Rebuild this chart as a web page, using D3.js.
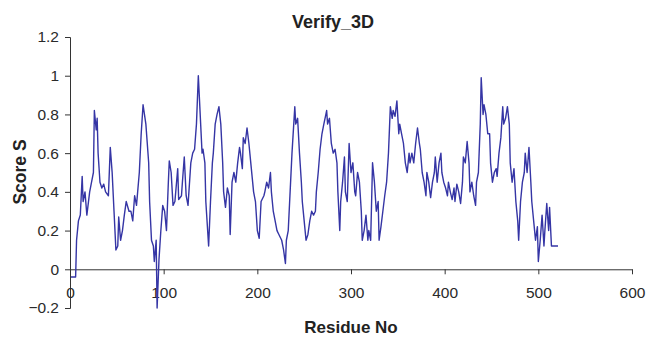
<!DOCTYPE html>
<html>
<head>
<meta charset="utf-8">
<script src="https://cdn.jsdelivr.net/npm/d3@7"></script>
<style>
  body { margin: 0; background: #fff; }
  svg { display: block; font-family: "Liberation Sans", Arial, sans-serif; }
</style>
</head>
<body>
<div id="chart"></div>
<script>
// residue numbers and Verify_3D scores
const residues = [1, 6, 7, 9, 11, 13, 14, 16, 18, 21, 23, 25, 26, 28, 29, 30, 32, 34, 36, 38, 41, 43, 45, 47, 49,
  51, 52, 54, 56, 58, 60, 63, 65, 67, 69, 71, 74, 76, 78, 81, 84, 85, 87, 89, 90, 92, 93, 95, 97, 99,
  101, 103, 105, 106, 108, 110, 112, 115, 116, 119, 120, 122, 124, 126, 129, 131, 133, 135, 137, 139,
  141, 142, 144, 145, 148, 150, 152, 153, 155, 157, 159, 161, 163, 164, 166, 168, 170, 171, 173, 175,
  177, 179, 181, 182, 184, 185, 187, 189, 191, 193, 195, 196, 198, 200, 202, 204, 207, 208, 210, 212,
  214, 215, 217, 219, 221, 223, 226, 228, 230, 231, 233, 235, 237, 240, 241, 243, 245, 247, 248, 250,
  252, 254, 256, 258, 260, 262, 263, 265, 267, 269, 271, 274, 275, 277, 279, 281, 283, 285, 286, 288,
  289, 291, 293, 294, 296, 298, 300, 302, 304, 305, 307, 309, 311, 312, 314, 316, 318, 319, 321, 323,
  325, 327, 329, 330, 332, 334, 336, 338, 340, 342, 344, 345, 347, 349, 351, 352, 354, 356, 358, 360,
  362, 363, 365, 367, 369, 371, 373, 374, 376, 378, 380, 381, 383, 385, 387, 389, 390, 392, 394, 396,
  397, 399, 401, 403, 404, 406, 408, 410, 411, 413, 415, 417, 419, 420, 422, 424, 426, 427, 429, 431,
  433, 434, 436, 438, 439, 441, 442, 444, 446, 448, 449, 451, 453, 455, 456, 458, 460, 462, 463, 465,
  467, 469, 470, 472, 474, 476, 478, 479, 481, 483, 485, 486, 488, 490, 492, 493, 495, 497, 499, 500,
  502, 504, 506, 507, 509, 511, 512, 514, 521];
const scores = [-0.04, -0.04, 0.15, 0.25, 0.28, 0.48, 0.35, 0.4, 0.28, 0.4, 0.45, 0.5, 0.82, 0.72, 0.78, 0.6, 0.45, 0.42, 0.44, 0.4, 0.38, 0.63, 0.5, 0.3, 0.1,
  0.12, 0.27, 0.15, 0.2, 0.28, 0.35, 0.3, 0.3, 0.25, 0.38, 0.33, 0.5, 0.7, 0.85, 0.75, 0.55, 0.35, 0.15, 0.12, 0.04, 0.15, -0.2, 0.05, 0.2, 0.33,
  0.3, 0.2, 0.45, 0.56, 0.5, 0.33, 0.35, 0.52, 0.36, 0.38, 0.45, 0.58, 0.38, 0.33, 0.55, 0.6, 0.62, 0.75, 1.0, 0.8,
  0.6, 0.62, 0.55, 0.35, 0.12, 0.35, 0.55, 0.6, 0.75, 0.8, 0.84, 0.75, 0.55, 0.4, 0.32, 0.42, 0.38, 0.18, 0.45, 0.5,
  0.45, 0.55, 0.63, 0.6, 0.52, 0.68, 0.65, 0.73, 0.65, 0.55, 0.45, 0.4, 0.35, 0.2, 0.16, 0.35, 0.38, 0.4, 0.45, 0.42,
  0.5, 0.4, 0.3, 0.25, 0.2, 0.18, 0.15, 0.1, 0.03, 0.15, 0.2, 0.4, 0.6, 0.84, 0.75, 0.78, 0.6, 0.45, 0.35, 0.25,
  0.15, 0.18, 0.25, 0.3, 0.28, 0.3, 0.4, 0.5, 0.62, 0.7, 0.75, 0.82, 0.75, 0.78, 0.65, 0.6, 0.62, 0.55, 0.4, 0.2,
  0.35, 0.45, 0.58, 0.4, 0.35, 0.65, 0.5, 0.55, 0.4, 0.38, 0.5, 0.45, 0.3, 0.15, 0.2, 0.28, 0.15, 0.2, 0.15, 0.55,
  0.45, 0.3, 0.35, 0.15, 0.22, 0.3, 0.38, 0.45, 0.6, 0.84, 0.78, 0.82, 0.79, 0.87, 0.7, 0.75, 0.7, 0.65, 0.55, 0.5,
  0.6, 0.55, 0.6, 0.55, 0.65, 0.73, 0.65, 0.62, 0.5, 0.45, 0.38, 0.5, 0.45, 0.37, 0.45, 0.5, 0.58, 0.45, 0.55, 0.6,
  0.5, 0.45, 0.42, 0.38, 0.45, 0.4, 0.36, 0.42, 0.35, 0.44, 0.4, 0.34, 0.45, 0.58, 0.55, 0.66, 0.55, 0.4, 0.45, 0.38,
  0.33, 0.45, 0.5, 0.75, 0.99, 0.8, 0.85, 0.8, 0.7, 0.7, 0.55, 0.45, 0.5, 0.52, 0.48, 0.6, 0.68, 0.84, 0.75, 0.78,
  0.84, 0.75, 0.55, 0.45, 0.52, 0.35, 0.25, 0.15, 0.35, 0.45, 0.5, 0.6, 0.5, 0.63, 0.45, 0.35, 0.25, 0.15, 0.22, 0.04,
  0.15, 0.28, 0.12, 0.2, 0.34, 0.2, 0.32, 0.12, 0.12];

const xTicks = [0, 100, 200, 300, 400, 500, 600];
const yTicks = [-0.2, 0, 0.2, 0.4, 0.6, 0.8, 1, 1.2];

const width = 648, height = 338;

const svg = d3.select('#chart').append('svg')
  .attr('width', width)
  .attr('height', height);

const x = d3.scaleLinear().domain([0, 600]).range([70, 632]);
const y = d3.scaleLinear().domain([-0.2, 1.2]).range([308, 37]);

// y axis on the left edge
svg.append('g')
  .attr('transform', 'translate(' + x(0) + ',0)')
  .call(d3.axisLeft(y).tickValues(yTicks).tickSize(5).tickPadding(6)
    .tickFormat(d => d3.format('')(+d.toFixed(1))))
  .call(g => g.select('.domain').attr('stroke', '#333'))
  .call(g => g.selectAll('.tick line').attr('stroke', '#333'))
  .call(g => g.selectAll('.tick text').attr('font-size', 15.5).attr('fill', '#2a2a2a')
    .attr('font-family', '"Liberation Sans", Arial, sans-serif'));

// x axis crosses at zero, labels sit low like Excel
const xAxis = svg.append('g')
  .attr('transform', 'translate(0,' + y(0) + ')')
  .call(d3.axisBottom(x).tickValues(xTicks).tickSize(5).tickSizeOuter(0).tickFormat(d3.format('d')))
  .call(g => g.select('.domain').attr('stroke', '#333'))
  .call(g => g.selectAll('.tick line').attr('stroke', '#333'));
xAxis.selectAll('.tick text')
  .attr('y', 24)
  .attr('dy', '0.32em')
  .attr('font-size', 15.5)
  .attr('fill', '#2a2a2a')
  .attr('font-family', '"Liberation Sans", Arial, sans-serif');

const line = d3.line()
  .x((d, i) => x(residues[i]))
  .y(d => y(d));

svg.append('path')
  .datum(scores)
  .attr('fill', 'none')
  .attr('stroke', '#3535a5')
  .attr('stroke-width', 1.4)
  .attr('stroke-linejoin', 'round')
  .attr('d', line);

svg.append('text')
  .attr('x', 333)
  .attr('y', 28)
  .attr('text-anchor', 'middle')
  .attr('font-size', 18)
  .attr('font-weight', 'bold')
  .attr('fill', '#222')
  .text('Verify_3D');

svg.append('text')
  .attr('x', 351)
  .attr('y', 333)
  .attr('text-anchor', 'middle')
  .attr('font-size', 17)
  .attr('font-weight', 'bold')
  .attr('fill', '#222')
  .text('Residue No');

svg.append('text')
  .attr('transform', 'translate(26,172) rotate(-90)')
  .attr('text-anchor', 'middle')
  .attr('font-size', 17.5)
  .attr('font-weight', 'bold')
  .attr('fill', '#222')
  .text('Score S');
</script>
</body>
</html>
